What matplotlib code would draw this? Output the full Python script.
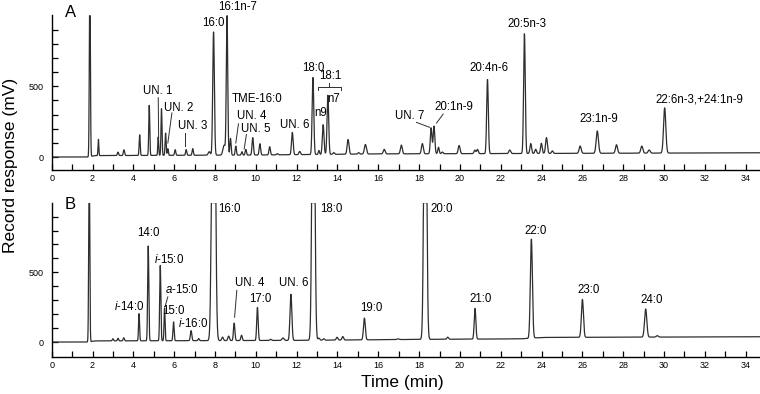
import numpy as np
import matplotlib
matplotlib.use("Agg")
import matplotlib.pyplot as plt
from matplotlib.ticker import MultipleLocator

plt.rcParams["font.family"] = ["Liberation Sans", "DejaVu Sans"]
plt.rcParams["mathtext.fontset"] = "custom"
plt.rcParams["mathtext.rm"] = "Liberation Sans"
plt.rcParams["mathtext.it"] = "Liberation Sans:italic"

# peak tables: retention time (min), height (mV), sigma (min)
rt_a = [1.87, 2.29, 3.25, 3.54, 4.31, 4.78, 5.22, 5.38, 5.58, 5.69, 6.05, 6.59, 6.91, 7.72,
        7.93, 8.45, 8.59, 8.76, 9.02, 9.32, 9.51, 9.85, 10.2, 10.68, 11.06, 11.79, 12.15,
        12.8, 13.09, 13.3, 13.53, 13.82, 14.52, 15.04, 15.37, 16.29, 17.13, 18.16, 18.59,
        18.73, 18.95, 19.14, 19.96, 20.73, 20.86, 21.35, 22.44, 23.16, 23.47, 23.71, 23.99,
        24.24, 24.53, 25.89, 26.73, 27.67, 28.91, 29.27, 30.03]
h_a = [1300, 115, 24, 40, 146, 354, 130, 330, 158, 47, 40, 40, 47, 25,
       873, 70, 990, 118, 64, 24, 40, 123, 80, 58, 8, 158, 23,
       545, 28, 210, 418, 12, 104, 10, 68, 32, 62, 72, 183,
       195, 46, 12, 58, 25, 30, 525, 25, 848, 70, 30, 72,
       112, 18, 52, 158, 60, 50, 22, 320]
sd_a = [0.025, 0.02, 0.03, 0.03, 0.025, 0.025, 0.022, 0.025, 0.025, 0.025, 0.03, 0.03, 0.03, 0.05,
        0.04, 0.06, 0.035, 0.03, 0.03, 0.03, 0.03, 0.035, 0.035, 0.035, 0.04, 0.04, 0.04,
        0.04, 0.03, 0.04, 0.04, 0.04, 0.045, 0.04, 0.05, 0.045, 0.045, 0.045, 0.04,
        0.04, 0.035, 0.04, 0.045, 0.04, 0.04, 0.04, 0.045, 0.04, 0.04, 0.04, 0.04,
        0.045, 0.04, 0.05, 0.055, 0.05, 0.05, 0.05, 0.055]
base_t_a = [0, 1.8, 2.1, 10, 16, 26, 34.7]
base_v_a = [0, 0, 10, 14, 22, 26, 30]

rt_b = [1.84, 3.0, 3.25, 3.53, 4.28, 4.73, 5.32, 5.53, 5.97, 6.83, 7.2, 7.93, 8.37, 8.67,
        8.94, 9.3, 10.08, 10.73, 11.33, 11.72, 12.82, 13.09, 13.33, 13.98, 14.26, 15.32,
        16.97, 18.3, 19.4, 20.74, 23.5, 26.0, 29.1, 29.67]
h_b = [1400, 15, 18, 22, 195, 680, 540, 235, 135, 72, 15, 4000, 25, 32,
       125, 38, 237, 8, 18, 330, 3000, 15, 10, 20, 25, 156,
       5, 3000, 15, 220, 710, 272, 202, 10]
sd_b = [0.025, 0.03, 0.03, 0.03, 0.025, 0.028, 0.028, 0.025, 0.028, 0.035, 0.03, 0.07, 0.04, 0.04,
        0.035, 0.035, 0.035, 0.04, 0.05, 0.045, 0.06, 0.04, 0.04, 0.04, 0.04, 0.045,
        0.05, 0.06, 0.04, 0.04, 0.05, 0.05, 0.055, 0.05]
base_t_b = [0, 1.8, 2.1, 12, 18, 23, 24, 34.7]
base_v_b = [0, 0, 8, 12, 19, 23, 33, 38]

# peak labels: (text, time, response)
labels_a = [("16:0", 7.9, 950), ("16:1n-7", 9.13, 1063), ("UN. 1", 5.2, 470),
            ("UN. 2", 6.2, 350), ("UN. 3", 6.9, 220), ("TME-16:0", 10.05, 410),
            ("UN. 4", 9.8, 292), ("UN. 5", 10.0, 200), ("UN. 6", 11.93, 229),
            ("18:0", 12.8, 632), ("18:1", 13.64, 572), ("n9", 13.2, 310), ("n7", 13.82, 410),
            ("UN. 7", 17.54, 292), ("20:1n-9", 19.71, 354), ("20:4n-6", 21.4, 630),
            ("20:5n-3", 23.3, 943), ("23:1n-9", 26.82, 269), ("22:6n-3,+24:1n-9", 31.75, 410)]
leaders_a = [((5.22, 5.24), (420, 135)), ((5.89, 5.69), (312, 99)), ((6.55, 6.55), (170, 75)),
             ((9.15, 9.02), (235, 99)), ((9.54, 9.43), (160, 57)),
             ((17.87, 18.52), (245, 210)), ((19.18, 18.85), (304, 240))]

labels_b = [("16:0", 8.7, 953), ("18:0", 13.7, 953), ("20:0", 19.09, 953),
            ("14:0", 4.75, 782), (r"$\mathit{i}$-15:0", 5.74, 594), (r"$\mathit{a}$-15:0", 6.39, 378),
            ("15:0", 5.97, 225), (r"$\mathit{i}$-14:0", 3.82, 254), (r"$\mathit{i}$-16:0", 6.91, 131),
            ("UN. 4", 9.71, 423), ("17:0", 10.24, 307), ("UN. 6", 11.87, 423),
            ("19:0", 15.66, 242), ("21:0", 21.02, 307), ("22:0", 23.71, 798),
            ("23:0", 26.28, 371), ("24:0", 29.38, 305)]
leaders_b = [((5.69, 5.56), (324, 258)), ((9.07, 8.96), (371, 178))]

t = np.linspace(0, 34.7, 7000)


def trace(rt, h, sd, bt, bv):
    y = np.interp(t, bt, bv)
    for r, hh, s in zip(rt, h, sd):
        y = y + hh * np.exp(-0.5 * ((t - r) / s) ** 2)
    return np.minimum(y, 1000)


fig = plt.figure(figsize=(7.6, 3.94), dpi=100)
ax_a = fig.add_axes([0.068, 0.5685, 0.932, 0.3934])
ax_b = fig.add_axes([0.068, 0.0947, 0.932, 0.391])

panels = [
    (ax_a, trace(rt_a, h_a, sd_a, base_t_a, base_v_a), labels_a, leaders_a, "A", (-92, 1005), 1025),
    (ax_b, trace(rt_b, h_b, sd_b, base_t_b, base_v_b), labels_b, leaders_b, "B", (-105, 1000), 985),
]

for ax, y, labs, leads, letter, ylim, ly in panels:
    ax.plot(t, y, color="#2e2e2e", lw=0.9)
    ax.set_xlim(0, 34.7)
    ax.set_ylim(*ylim)
    for s in ["top", "right"]:
        ax.spines[s].set_visible(False)
    for s in ["left", "bottom"]:
        ax.spines[s].set_linewidth(1.0)
    ax.set_xticks(np.arange(0, 35, 2))
    ax.xaxis.set_minor_locator(MultipleLocator(1))
    ax.set_yticks([0, 500])
    ax.set_yticks(np.arange(100, 1000, 100), minor=True)
    ax.tick_params(which="both", direction="in", length=4, width=0.9, labelsize=6.5)
    ax.tick_params(axis="x", pad=3)
    ax.tick_params(axis="y", pad=6)
    for txt, x, yy in labs:
        ax.text(x, yy, txt, fontsize=8.3, ha="center", va="center", clip_on=False)
    for xs, ys in leads:
        ax.plot(xs, ys, color="#2e2e2e", lw=0.7)
    ax.text(0.9, ly, letter, fontsize=12, ha="center", va="center", clip_on=False)

# bracket for 18:1 isomers
ax_a.plot([13.04, 13.04, 14.15, 14.15], [472, 495, 495, 472], color="#2e2e2e", lw=0.7)
ax_a.plot([13.58, 13.58], [495, 523], color="#2e2e2e", lw=0.7)

fig.text(0.529, 0.028, "Time (min)", fontsize=12.5, ha="center", va="center")
fig.text(0.014, 0.581, "Record response (mV)", fontsize=12.5, ha="center", va="center", rotation=90)

fig.savefig("out.png", dpi=100)
